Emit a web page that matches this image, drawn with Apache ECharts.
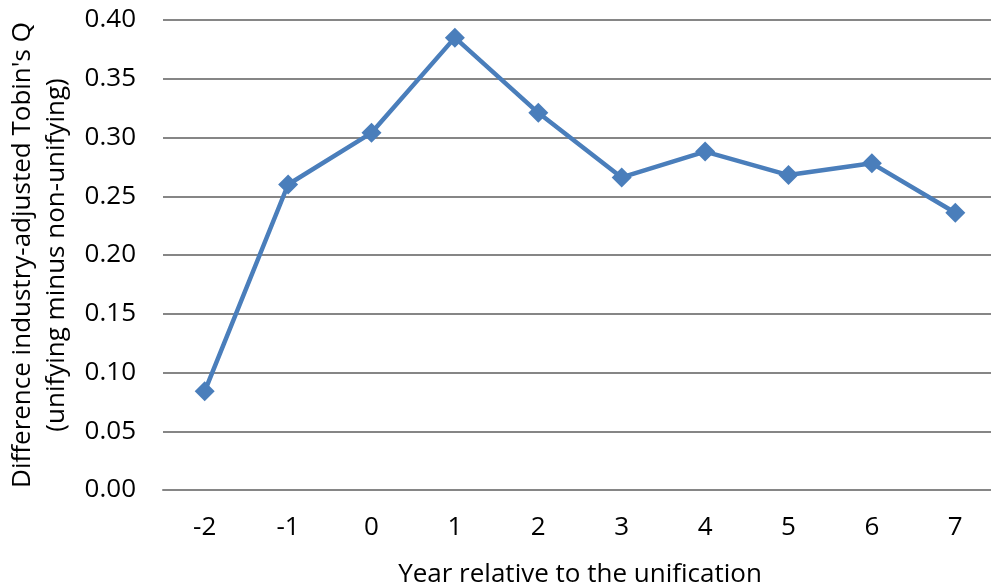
<!DOCTYPE html>
<html><head><meta charset="utf-8">
<script src="https://cdn.jsdelivr.net/npm/echarts@6/dist/echarts.min.js"></script>
<style>html,body{margin:0;padding:0;background:#fff}#c{width:991px;height:588px}</style>
</head><body><div id="c"></div>
<script>
var categories = ['-2','-1','0','1','2','3','4','5','6','7'];
var values = [0.084, 0.260, 0.304, 0.385, 0.321, 0.266, 0.288, 0.268, 0.278, 0.236];
var yTitle = "Difference industry-adjusted Tobin's Q\n(unifying minus non-unifying)";
var xTitle = 'Year relative to the unification';

var chart = echarts.init(document.getElementById('c'));
var font = "'Open Sans', sans-serif";
chart.setOption({
  animation: false,
  grid: {left: 163, right: -6, top: 20, bottom: 98, containLabel: false, outerBoundsMode: 'none'},
  xAxis: {
    type: 'category', data: categories, boundaryGap: true,
    axisLine: {show: true, lineStyle: {color: '#868686', width: 2}},
    axisTick: {show: false},
    axisLabel: {color: '#000', fontSize: 26, fontFamily: font, margin: 25},
    name: xTitle, nameLocation: 'middle', nameGap: 72,
    nameTextStyle: {color: '#000', fontSize: 26, fontFamily: font}
  },
  yAxis: {
    type: 'value', min: 0, max: 0.4, interval: 0.05,
    axisLine: {show: false}, axisTick: {show: false},
    splitLine: {lineStyle: {color: '#868686', width: 2}},
    axisLabel: {color: '#000', fontSize: 26, fontFamily: font, margin: 27,
      formatter: function(v){return v.toFixed(2);}},
    name: yTitle, nameLocation: 'middle', nameGap: 84, nameRotate: 90,
    nameTextStyle: {color: '#000', fontSize: 26, fontFamily: font, lineHeight: 34}
  },
  series: [{
    type: 'line', data: values,
    symbol: 'diamond', symbolSize: 20,
    lineStyle: {color: '#4a7ebb', width: 4.5},
    itemStyle: {color: '#4a7ebb'}
  }]
});
</script></body></html>
